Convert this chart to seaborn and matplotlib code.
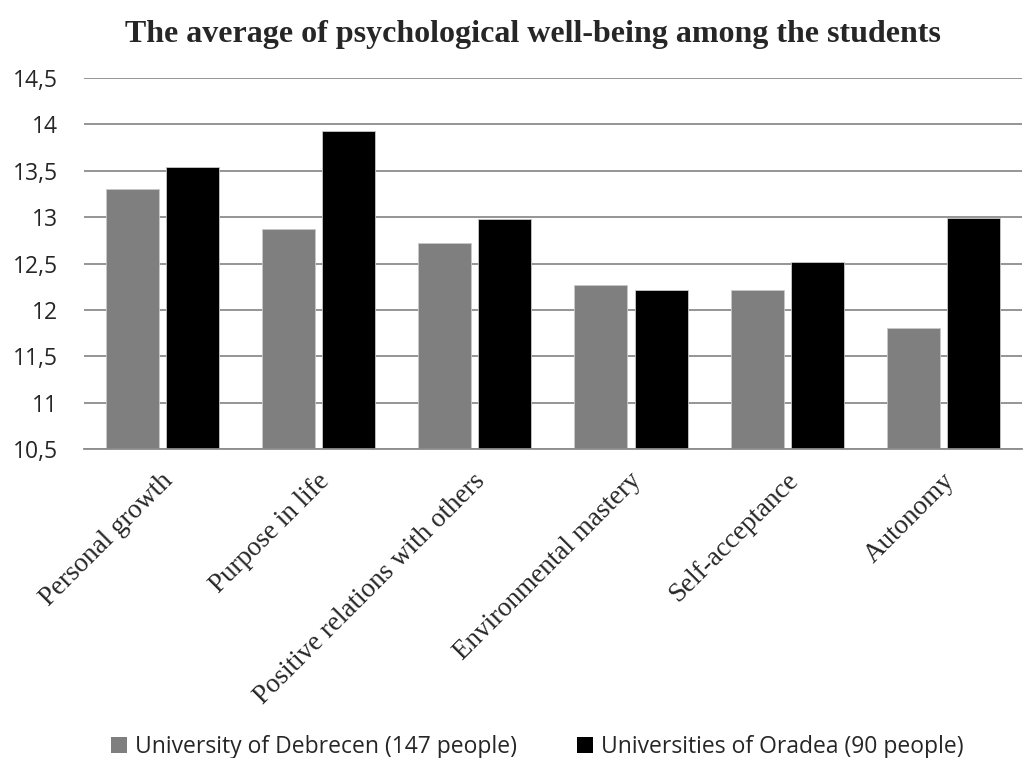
import matplotlib
matplotlib.use("Agg")
import matplotlib.pyplot as plt
import matplotlib.transforms as mtransforms
import seaborn as sns
import pandas as pd
from matplotlib.ticker import FuncFormatter, MultipleLocator
from matplotlib.patches import Patch

categories = ["Personal growth", "Purpose in life", "Positive relations with others",
              "Environmental mastery", "Self-acceptance", "Autonomy"]
series_names = ["University of Debrecen (147 people)", "Universities of Oradea (90 people)"]
debrecen = [13.30, 12.87, 12.72, 12.27, 12.21, 11.80]
oradea = [13.54, 13.93, 12.98, 12.21, 12.52, 12.99]
colors = ["#7f7f7f", "#000000"]

df = pd.DataFrame({
    "category": categories * 2,
    "group": [series_names[0]] * len(categories) + [series_names[1]] * len(categories),
    "value": debrecen + oradea,
})

sns.set_theme(style="white")
plt.rcParams['font.family'] = ['Liberation Serif', 'DejaVu Sans']

fig = plt.figure(figsize=(10.31, 7.58), dpi=100)
ax = fig.add_axes([0.0815, 0.4077, 0.9095, 0.4893])

sns.barplot(data=df, x="category", y="value", hue="group", order=categories,
            hue_order=series_names, palette=colors, width=0.77, gap=0.117,
            saturation=1, ax=ax, legend=False, edgecolor="#c8c8c8", linewidth=0.6)

ax.set_ylim(10.5, 14.5)
ax.yaxis.set_major_locator(MultipleLocator(0.5))
ax.yaxis.set_major_formatter(FuncFormatter(lambda v, p: ("%g" % v).replace(".", ",")))
ax.grid(axis="y", color="#8c8c8c", linewidth=1.3)
ax.set_axisbelow(True)
for s in ["top", "right", "left"]:
    ax.spines[s].set_visible(False)
ax.spines["bottom"].set_color("#8c8c8c")
ax.spines["bottom"].set_linewidth(1.3)
ax.set_xlim(-0.5, len(categories) - 0.5)
ax.set_xlabel("")
ax.set_ylabel("")
ax.tick_params(axis="y", length=0, pad=19)
ax.tick_params(axis="x", length=0, pad=14)
for lbl in ax.get_yticklabels():
    lbl.set_fontfamily(["Open Sans", "DejaVu Sans"])
    lbl.set_fontsize(16.5)
ax.set_xticks(range(len(categories)))
ax.set_xticklabels(categories, rotation=45, ha="right", va="top", rotation_mode="anchor",
                   fontsize=19.5, family=["Liberation Serif"])
offset = mtransforms.ScaledTranslation(-2 / 100, 0, fig.dpi_scale_trans)
for lbl in ax.get_xticklabels():
    lbl.set_transform(lbl.get_transform() + offset)

fig.text(0.517, 0.955, "The average of psychological well-being among the students",
         ha="center", va="center", fontsize=23, fontweight="bold", family=["Liberation Serif"])

handles = [Patch(facecolor=c, edgecolor="none") for c in colors]
fig.legend(handles, series_names, loc="center", bbox_to_anchor=(0.521, 0.015),
           ncol=2, frameon=False, prop={"family": ["Open Sans", "DejaVu Sans"], "size": 16.5},
           handlelength=0.7, handleheight=0.7, handletextpad=0.35, columnspacing=2.6,
           borderaxespad=0, borderpad=0)

fig.savefig("out.png", dpi=100)
